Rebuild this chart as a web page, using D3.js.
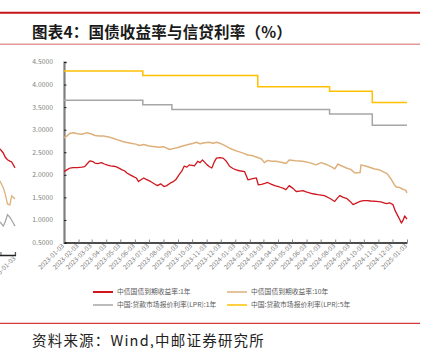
<!DOCTYPE html>
<html>
<head>
<meta charset="utf-8">
<script src="https://cdn.jsdelivr.net/npm/d3@7/dist/d3.min.js"></script>
<style>
  html, body { margin: 0; padding: 0; background: #fff; }
  svg { display: block; }
  text { font-family: "Noto Sans CJK SC", "Noto Sans", sans-serif; }
</style>
</head>
<body>
<svg id="chart" width="428" height="348"></svg>
<script>
// ---- data ----------------------------------------------------------------
const titleText = "图表4：国债收益率与信贷利率（%）";
const sourceText = "资料来源：Wind,中邮证券研究所";

const seriesNames = [
  "中债国债到期收益率:1年",
  "中债国债到期收益率:10年",
  "中国:贷款市场报价利率(LPR):1年",
  "中国:贷款市场报价利率(LPR):5年"
];

const yTicks = [0.5, 1.0, 1.5, 2.0, 2.5, 3.0, 3.5, 4.0, 4.5];

const xTickLabels = [
  "2023-01-03","2023-02-03","2023-03-03","2023-04-03","2023-05-03","2023-06-03",
  "2023-07-03","2023-08-03","2023-09-03","2023-10-03","2023-11-03","2023-12-03",
  "2024-01-03","2024-02-03","2024-03-03","2024-04-03","2024-05-03","2024-06-03",
  "2024-07-03","2024-08-03","2024-09-03","2024-10-03","2024-11-03","2024-12-03",
  "2025-01-03"
];

// 1-year government bond yield
const cgb1yDates = [
  "2023-01-03","2023-01-09","2023-01-16","2023-01-22","2023-02-01","2023-02-10","2023-02-16","2023-02-22",
  "2023-02-27","2023-03-06","2023-03-10","2023-03-16","2023-03-24","2023-03-30","2023-04-04","2023-04-12",
  "2023-04-19","2023-04-26","2023-05-07","2023-05-12","2023-05-17","2023-05-24","2023-05-31","2023-06-06",
  "2023-06-11","2023-06-16","2023-06-22","2023-06-27","2023-07-03","2023-07-10","2023-07-16","2023-07-21",
  "2023-07-28","2023-08-04","2023-08-10","2023-08-18","2023-08-24","2023-08-29","2023-09-05","2023-09-11",
  "2023-09-16","2023-09-22","2023-09-27","2023-10-08","2023-10-15","2023-10-20","2023-10-25","2023-11-04",
  "2023-11-09","2023-11-14","2023-11-19","2023-11-24","2023-12-01","2023-12-08","2023-12-15","2023-12-22",
  "2023-12-29","2024-01-05","2024-01-12","2024-01-23","2024-01-30","2024-02-07","2024-02-17","2024-02-21",
  "2024-02-28","2024-03-06","2024-03-12","2024-03-18","2024-03-27","2024-04-06","2024-04-15","2024-04-20",
  "2024-04-27","2024-05-05","2024-05-12","2024-05-19","2024-05-26","2024-06-02","2024-06-09","2024-06-16",
  "2024-06-27","2024-07-11","2024-07-22","2024-08-02","2024-08-09","2024-08-13","2024-08-20","2024-08-27",
  "2024-09-05","2024-09-10","2024-09-18","2024-09-25","2024-10-02","2024-10-10","2024-10-18","2024-10-30",
  "2024-11-08","2024-11-20","2024-11-27","2024-12-04","2024-12-09","2024-12-15","2024-12-19","2024-12-22",
  "2024-12-26","2024-12-29","2025-01-03"
];
const cgb1yValues = [
  2.07,2.11,2.15,2.16,2.16,2.17,2.18,2.25,
  2.31,2.29,2.26,2.25,2.27,2.24,2.22,2.20,
  2.19,2.17,2.11,2.09,2.04,2.00,1.96,1.93,
  1.85,1.89,1.93,1.90,1.87,1.83,1.79,1.76,
  1.80,1.74,1.76,1.82,1.85,1.89,2.00,2.08,
  2.19,2.17,2.22,2.20,2.30,2.27,2.33,2.22,
  2.18,2.15,2.28,2.37,2.38,2.37,2.30,2.19,
  2.14,2.11,2.09,2.07,1.89,1.91,1.93,1.78,
  1.79,1.81,1.83,1.80,1.76,1.73,1.70,1.67,
  1.76,1.70,1.63,1.64,1.65,1.62,1.60,1.58,
  1.56,1.54,1.48,1.41,1.50,1.54,1.50,1.48,
  1.40,1.34,1.38,1.41,1.43,1.43,1.42,1.41,
  1.40,1.36,1.38,1.34,1.20,1.08,1.00,0.93,
  1.00,1.09,1.02
];

// 10-year government bond yield
const cgb10yDates = [
  "2023-01-03","2023-01-09","2023-01-16","2023-01-23","2023-02-01","2023-02-10","2023-02-20","2023-03-01",
  "2023-03-10","2023-03-19","2023-03-28","2023-04-08","2023-04-17","2023-04-26","2023-05-08","2023-05-15",
  "2023-05-25","2023-06-05","2023-06-13","2023-06-22","2023-07-03","2023-07-12","2023-07-25","2023-08-04",
  "2023-08-16","2023-08-23","2023-09-01","2023-09-13","2023-09-25","2023-10-06","2023-10-12","2023-10-20",
  "2023-10-30","2023-11-08","2023-11-17","2023-11-24","2023-12-01","2023-12-08","2023-12-22","2024-01-05",
  "2024-01-20","2024-01-30","2024-02-10","2024-02-18","2024-02-28","2024-03-05","2024-03-12","2024-03-20",
  "2024-03-30","2024-04-10","2024-04-20","2024-04-27","2024-05-10","2024-05-26","2024-06-09","2024-06-23",
  "2024-07-04","2024-07-15","2024-07-25","2024-08-02","2024-08-09","2024-08-16","2024-08-27","2024-09-05",
  "2024-09-14","2024-09-25","2024-09-27","2024-10-08","2024-10-20","2024-10-26","2024-11-05","2024-11-13",
  "2024-11-22","2024-12-01","2024-12-07","2024-12-11","2024-12-18","2024-12-25","2024-12-31","2025-01-03"
];
const cgb10yValues = [
  2.82,2.86,2.92,2.93,2.91,2.90,2.93,2.91,
  2.87,2.86,2.86,2.84,2.81,2.78,2.74,2.72,
  2.70,2.68,2.65,2.67,2.64,2.63,2.61,2.62,
  2.56,2.58,2.60,2.64,2.67,2.70,2.72,2.69,
  2.71,2.72,2.70,2.72,2.70,2.67,2.59,2.53,
  2.48,2.44,2.42,2.39,2.35,2.27,2.32,2.30,
  2.30,2.28,2.25,2.33,2.31,2.30,2.27,2.22,
  2.27,2.23,2.18,2.13,2.24,2.20,2.15,2.12,
  2.04,2.05,2.22,2.19,2.15,2.13,2.11,2.07,
  2.02,1.89,1.78,1.73,1.72,1.68,1.66,1.60
];

// Loan prime rates (values hold until the next fixing date)
const lpr1yDates  = ["2023-01-03","2023-06-20","2023-08-21","2024-07-22","2024-10-21","2025-01-03"];
const lpr1yValues = [3.65, 3.55, 3.45, 3.35, 3.10, 3.10];
const lpr5yDates  = ["2023-01-03","2023-06-20","2024-02-20","2024-07-22","2024-10-21","2025-01-03"];
const lpr5yValues = [4.30, 4.20, 3.95, 3.85, 3.60, 3.60];

// Tail of the neighbouring panel on the left edge of the page
const edgeDates       = ["2024-12-02","2024-12-09","2024-12-13","2024-12-18","2024-12-23","2024-12-27","2025-01-03"];
const edgeRedValues   = [2.84, 2.75, 2.66, 2.60, 2.57, 2.55, 2.42];
const edgeTanValues   = [2.13, 1.98, 1.85, 1.62, 1.60, 1.80, 1.73];
const edgeGrayValues  = [1.22, 1.13, 1.22, 1.38, 1.33, 1.26, 1.13];

const colors = ["#d0161e", "#deb07a", "#a6a6a6", "#ffc000"];

// ---- drawing -------------------------------------------------------------
const parse = d3.timeParse("%Y-%m-%d");
const zip = (ds, vs) => ds.map((d, i) => ({ date: parse(d), value: vs[i] }));

const svg = d3.select("#chart");
svg.append("rect").attr("width", 428).attr("height", 348).attr("fill", "#fff");

// header rules and title
svg.append("line").attr("x1", 0).attr("x2", 420).attr("y1", 12.8).attr("y2", 12.8)
  .attr("stroke", "#c4161c").attr("stroke-width", 2);
svg.append("line").attr("x1", 0).attr("x2", 420).attr("y1", 44.3).attr("y2", 44.3)
  .attr("stroke", "#e49a9a").attr("stroke-width", 1.5);
svg.append("text").attr("x", 32).attr("y", 37.5)
  .attr("font-size", 15.5).attr("font-weight", 700).attr("fill", "#1a1a1a")
  .attr("letter-spacing", 0.2)
  .text(titleText);

// footer rule and source
svg.append("line").attr("x1", 0).attr("x2", 420).attr("y1", 323.3).attr("y2", 323.3)
  .attr("stroke", "#d23a3a").attr("stroke-width", 1.3);
svg.append("text").attr("x", 32).attr("y", 345.5)
  .attr("font-size", 14.5).attr("fill", "#222").attr("letter-spacing", 1.2)
  .text(sourceText);

// scales
const domain = [parse("2023-01-03"), parse("2025-01-03")];
const x = d3.scaleTime().domain(domain).range([64, 407]);
const y = d3.scaleLinear().domain([0.5, 4.5]).range([242.5, 62]);

const lineGen = d3.line().x(d => x(d.date)).y(d => y(d.value));
const stepGen = d3.line().x(d => x(d.date)).y(d => y(d.value)).curve(d3.curveStepAfter);

// neighbouring panel tail, clipped to the left margin
const clip = svg.append("clipPath").attr("id", "edgeClip");
clip.append("rect").attr("x", 0).attr("y", 50).attr("width", 16.5).attr("height", 240);
const edge = svg.append("g").attr("clip-path", "url(#edgeClip)");
const xe = d3.scaleTime().domain(domain).range([15 - 343, 15]);
const ye = d3.scaleLinear().domain([0.5, 4.5]).range([254.5, 74]);
const edgeLine = d3.line().x(d => xe(d.date)).y(d => ye(d.value));
[[edgeRedValues, colors[0]], [edgeTanValues, colors[1]], [edgeGrayValues, colors[2]]].forEach(([vals, c]) => {
  edge.append("path").datum(zip(edgeDates, vals))
    .attr("fill", "none").attr("stroke", c).attr("stroke-width", 1.3).attr("d", edgeLine);
});
const edgeAxis = edge.append("g").attr("transform", "translate(0,255)")
  .call(d3.axisBottom(xe).tickValues([parse("2024-12-03"), parse("2025-01-03")]).tickSize(-3).tickFormat(""));
edgeAxis.select(".domain").attr("stroke", "#222").attr("stroke-width", 1.3);
edgeAxis.selectAll(".tick line").attr("stroke", "#555");
edge.append("text")
  .attr("transform", `translate(${xe(parse("2025-01-03")) + 1},${259}) rotate(-45)`)
  .attr("text-anchor", "end").attr("font-size", 6.5).attr("fill", "#808080")
  .attr("font-family", "Liberation Sans, Arial, sans-serif")
  .text("2025-01-03");

// y axis
const yAxis = svg.append("g").attr("transform", "translate(64,0)")
  .call(d3.axisRight(y).tickValues(yTicks).tickSize(2.5).tickFormat(""));
yAxis.select(".domain").attr("stroke", "#7f7f7f").attr("stroke-width", 2.2);
yAxis.selectAll(".tick line").attr("stroke", "#222");
svg.append("g").selectAll("text").data(yTicks).join("text")
  .attr("x", 53).attr("y", d => y(d) + 2.4)
  .attr("text-anchor", "end").attr("font-size", 6.8).attr("fill", "#808080")
  .attr("font-family", "Liberation Sans, Arial, sans-serif")
  .text(d => d3.format(".4f")(d));

// x axis
const xTicks = xTickLabels.map(parse);
const xAxis = svg.append("g").attr("transform", "translate(0,242.5)")
  .call(d3.axisBottom(x).tickValues(xTicks).tickSize(-3).tickSizeOuter(0).tickFormat(""));
xAxis.select(".domain").attr("stroke", "#111").attr("stroke-width", 1.4);
xAxis.selectAll(".tick line").attr("stroke", "#888");
svg.append("g").selectAll("text").data(xTickLabels).join("text")
  .attr("transform", d => `translate(${x(parse(d)) + 0.5},${246.5}) rotate(-45)`)
  .attr("text-anchor", "end").attr("font-size", 6.5).attr("fill", "#808080")
  .attr("font-family", "Liberation Sans, Arial, sans-serif")
  .text(d => d);

// series
const plot = svg.append("g");
plot.append("path").datum(zip(lpr5yDates, lpr5yValues))
  .attr("fill", "none").attr("stroke", colors[3]).attr("stroke-width", 1.5).attr("d", stepGen);
plot.append("path").datum(zip(lpr1yDates, lpr1yValues))
  .attr("fill", "none").attr("stroke", colors[2]).attr("stroke-width", 1.5).attr("d", stepGen);
plot.append("path").datum(zip(cgb10yDates, cgb10yValues))
  .attr("fill", "none").attr("stroke", colors[1]).attr("stroke-width", 1.5)
  .attr("stroke-linejoin", "round").attr("d", lineGen);
plot.append("path").datum(zip(cgb1yDates, cgb1yValues))
  .attr("fill", "none").attr("stroke", colors[0]).attr("stroke-width", 1.3)
  .attr("stroke-linejoin", "round").attr("d", lineGen);

// legend
const legendItems = [
  { name: seriesNames[0], color: colors[0], col: 0, row: 0 },
  { name: seriesNames[1], color: colors[1], col: 1, row: 0 },
  { name: seriesNames[2], color: colors[2], col: 0, row: 1 },
  { name: seriesNames[3], color: colors[3], col: 1, row: 1 }
];
const legend = svg.append("g").selectAll("g").data(legendItems).join("g")
  .attr("transform", d => `translate(${93 + d.col * 134},${292 + d.row * 13})`);
legend.append("line").attr("x1", 0).attr("x2", 20).attr("y1", 0).attr("y2", 0)
  .attr("stroke", d => d.color).attr("stroke-width", d => d.col === 0 && d.row === 0 ? 2 : 1.5);
legend.append("text").attr("x", 24).attr("y", 2.4)
  .attr("font-size", 6.8).attr("fill", "#595959")
  .text(d => d.name);
</script>
</body>
</html>
